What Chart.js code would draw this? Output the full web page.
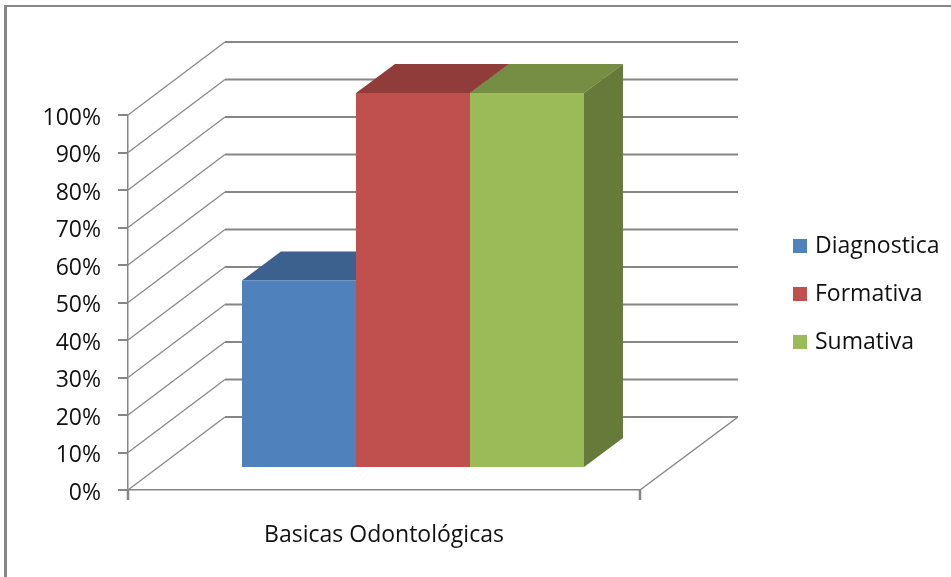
<!DOCTYPE html>
<html>
<head>
<meta charset="utf-8">
<title>Basicas Odontológicas</title>
<style>
  html, body { margin: 0; padding: 0; background: #fff; overflow: hidden; }
  #wrap { position: relative; width: 951px; height: 577px; }
  #frame { position: absolute; left: 4px; top: 5px; right: 0; bottom: 0; border-left: 3px solid #868686; border-top: 2px solid #868686; }
  canvas { position: absolute; left: 0; top: 0; }
</style>
<script src="https://cdn.jsdelivr.net/npm/chart.js@4"></script>
</head>
<body>
<div id="wrap">
  <div id="frame"></div>
  <canvas id="chart" width="951" height="577"></canvas>
</div>
<script>
const categories = ["Basicas Odontológicas"];
const seriesNames = ["Diagnostica", "Formativa", "Sumativa"];
const diagnostica = [50];
const formativa = [100];
const sumativa = [100];
const frontColors = ["#4F81BD", "#C0504D", "#9BBB59"];
const topColors = ["#3C618E", "#903C3A", "#758E43"];
const sideColors = ["#345379", "#7C3332", "#667A39"];

const FONT = "'Open Sans', Lato, sans-serif";
const FONT_SIZE = 23;
const LINE = "#868686";
// depth of the box the bars stand in
const WALL_DX = 97, WALL_DY = 73;
// bars stand 30% into the box and are 40% deep
const BAR_SHIFT_X = 29, BAR_SHIFT_Y = 22;
const BAR_DX = 39, BAR_DY = 29;

function poly(ctx, pts, fill) {
  ctx.beginPath();
  pts.forEach((p, i) => i ? ctx.lineTo(p[0], p[1]) : ctx.moveTo(p[0], p[1]));
  ctx.closePath();
  ctx.fillStyle = fill;
  ctx.fill();
}

function stroke(ctx, x1, y1, x2, y2, width) {
  ctx.beginPath();
  ctx.moveTo(x1, y1);
  ctx.lineTo(x2, y2);
  ctx.strokeStyle = LINE;
  ctx.lineWidth = width;
  ctx.stroke();
}

// side wall, back wall and floor
const walls = {
  id: "walls",
  beforeDatasetsDraw(chart) {
    const { ctx, chartArea: a, scales } = chart;
    ctx.save();
    scales.y.ticks.forEach(t => {
      const y = scales.y.getPixelForValue(t.value);
      stroke(ctx, a.left, y, a.left + WALL_DX, y - WALL_DY, 1.2);
      stroke(ctx, a.left + WALL_DX, y - WALL_DY, a.right + WALL_DX + 1, y - WALL_DY, 2);
    });
    stroke(ctx, a.right, a.bottom, a.right + WALL_DX + 1, a.bottom - WALL_DY, 1.5);
    // little ticks at both ends of the x axis
    stroke(ctx, a.left, a.bottom, a.left, a.bottom + 10, 2.5);
    stroke(ctx, a.right, a.bottom, a.right, a.bottom + 10, 2.5);
    ctx.restore();
  }
};

// top and side faces, then the fronts get moved into the box
const bars3d = {
  id: "bars3d",
  beforeDatasetsDraw(chart) {
    const { ctx } = chart;
    ctx.save();
    ctx.translate(BAR_SHIFT_X, -BAR_SHIFT_Y);
    chart.data.datasets.forEach((ds, i) => {
      chart.getDatasetMeta(i).data.forEach(bar => {
        const l = bar.x - bar.width / 2, r = bar.x + bar.width / 2;
        poly(ctx, [[l, bar.y], [l + BAR_DX, bar.y - BAR_DY], [r + BAR_DX, bar.y - BAR_DY], [r, bar.y]], topColors[i]);
        poly(ctx, [[r, bar.y], [r + BAR_DX, bar.y - BAR_DY], [r + BAR_DX, bar.base - BAR_DY], [r, bar.base]], sideColors[i]);
      });
    });
  },
  afterDatasetsDraw(chart) {
    chart.ctx.restore();
  }
};

const sideLegend = {
  id: "sideLegend",
  afterDraw(chart) {
    const { ctx } = chart;
    ctx.save();
    ctx.font = FONT_SIZE + "px " + FONT;
    ctx.textBaseline = "middle";
    seriesNames.forEach((name, i) => {
      const y = 246 + i * 48;
      ctx.fillStyle = frontColors[i];
      ctx.fillRect(793, y - 7, 14, 14);
      ctx.fillStyle = "#111";
      ctx.fillText(name, 815, y);
    });
    ctx.restore();
  }
};

new Chart(document.getElementById("chart"), {
  type: "bar",
  data: {
    labels: categories,
    datasets: [
      { label: seriesNames[0], data: diagnostica, backgroundColor: frontColors[0] },
      { label: seriesNames[1], data: formativa, backgroundColor: frontColors[1] },
      { label: seriesNames[2], data: sumativa, backgroundColor: frontColors[2] }
    ]
  },
  options: {
    responsive: false,
    animation: false,
    clip: false,
    categoryPercentage: 0.668,
    barPercentage: 1,
    layout: { padding: { left: 0, top: 115, right: 311, bottom: 0 } },
    plugins: { legend: { display: false }, tooltip: { enabled: false } },
    scales: {
      x: {
        afterFit(scale) { scale.height = 87; },
        grid: { display: false },
        border: { color: LINE, width: 1.5 },
        ticks: { padding: 24, color: "#111", font: { family: FONT, size: FONT_SIZE }, maxRotation: 0 }
      },
      y: {
        min: 0,
        max: 100,
        afterFit(scale) { scale.width = 128; },
        grid: { drawOnChartArea: false, tickLength: 10, color: LINE, lineWidth: 2 },
        border: { color: LINE, width: 1.5 },
        ticks: {
          stepSize: 10,
          padding: 17,
          labelOffset: 3,
          color: "#111",
          font: { family: FONT, size: FONT_SIZE },
          callback: v => v + "%"
        }
      }
    }
  },
  plugins: [walls, bars3d, sideLegend]
});
</script>
</body>
</html>
